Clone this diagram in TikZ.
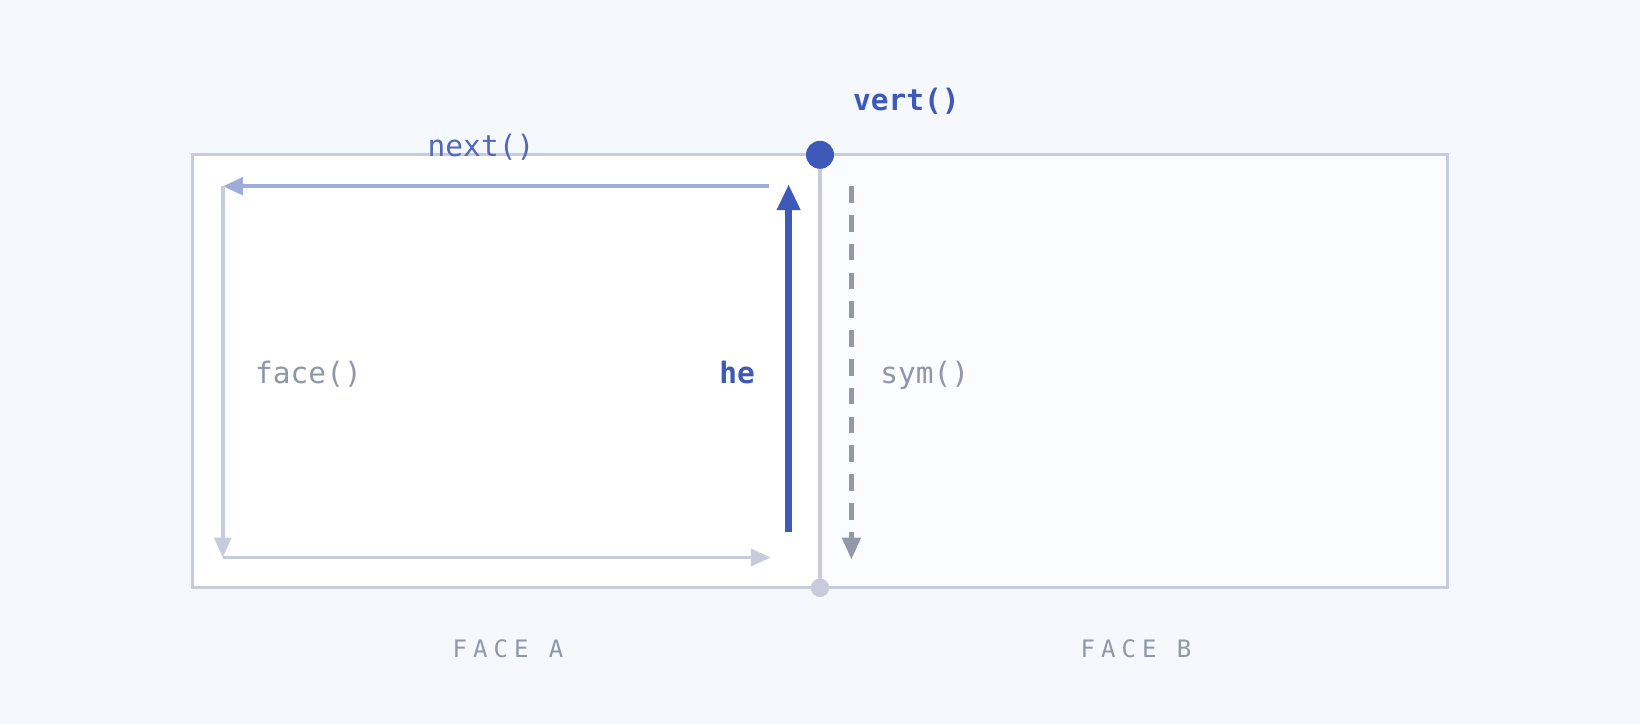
\documentclass[tikz,border=0pt]{standalone}
\usepackage{fontspec}
\setmonofont{DejaVu Sans Mono}
\newfontfamily\spacedmono[LetterSpace=25]{DejaVu Sans Mono}
\usetikzlibrary{arrows.meta}
\definecolor{bgc}{HTML}{F5F8FC}
\definecolor{faceb}{HTML}{FAFCFF}
\definecolor{edgec}{HTML}{C8CBDB}
\definecolor{bluec}{HTML}{3D5AB8}
\definecolor{nextc}{HTML}{9FABD9}
\definecolor{nexttxt}{HTML}{5369B8}
\definecolor{grayc}{HTML}{9097A8}
\definecolor{dashc}{HTML}{9298AA}
\tikzset{
  facebox/.style={draw=edgec, line width=3.2pt},
  lbl/.style={inner sep=0pt, anchor=base, font=\ttfamily\fontsize{29.5}{30}\selectfont},
  caption/.style={inner sep=0pt, anchor=base, text=grayc, font=\spacedmono\fontsize{24}{26}\selectfont},
  nextarrow/.style={draw=nextc, line width=4.5pt, -{Triangle[length=20pt,width=17pt]}},
  facearrow/.style={draw=edgec, line width=3.5pt, -{Triangle[length=20pt,width=17pt]}},
  hearrow/.style={draw=bluec, line width=7pt, -{Triangle[length=26pt,width=22pt]}},
  symarrow/.style={draw=dashc, line width=5pt, dash pattern=on 16.5pt off 12.3pt, -{Triangle[length=22pt,width=18pt]}},
}
\begin{document}
\begin{tikzpicture}[x=1pt,y=-1pt]
  \fill[bgc] (0,0) rectangle (1640,724);
  \useasboundingbox (0,0) rectangle (1640,724);
  % faces
  \filldraw[facebox, fill=white] (192.4,154.8) rectangle (820,587.8);
  \filldraw[facebox, fill=faceb] (820,154.8) rectangle (1447.5,587.8);
  \draw[facebox] (192.4,154.8) rectangle (1447.5,587.8);
  \draw[facebox] (820,154.8) -- (820,587.8);
  % coordinates
  \coordinate (nstart) at (768.7,186.2);
  \coordinate (tl) at (222.8,186.2);
  \coordinate (bl) at (222.8,557.5);
  \coordinate (br) at (770.8,557.5);
  \coordinate (hestart) at (788.6,532.4);
  \coordinate (heend) at (788.6,184.1);
  \coordinate (symstart) at (851.4,186.2);
  \coordinate (symend) at (851.4,559.6);
  % half-edge cycle
  \draw[nextarrow] (nstart) -- (tl);
  \draw[facearrow] (tl) -- (bl);
  \draw[facearrow] (bl) -- (br);
  \draw[hearrow] (hestart) -- (heend);
  \draw[symarrow] (symstart) -- (symend);
  % vertices
  \node[circle, fill=bluec, inner sep=0pt, minimum size=28pt] (vtop) at (820,154.8) {};
  \node[circle, fill=edgec, inner sep=0pt, minimum size=18.5pt] (vbot) at (820,587.8) {};
  % labels
  \node[lbl, text=bluec, font=\ttfamily\bfseries\fontsize{29.5}{30}\selectfont] (vertl) at (906.3,110) {vert()};
  \node[lbl, text=nexttxt] (nextl) at (481,156) {next()};
  \node[lbl, text=grayc] (facel) at (308.5,383.3) {face()};
  \node[lbl, text=bluec, font=\ttfamily\bfseries\fontsize{29.5}{30}\selectfont] (hel) at (737,383.3) {he};
  \node[lbl, text=grayc] (syml) at (924.7,383.3) {sym()};
  \node[caption] (capa) at (508,657) {FACE A};
  \node[caption] (capb) at (1136,657) {FACE B};
\end{tikzpicture}
\end{document}
